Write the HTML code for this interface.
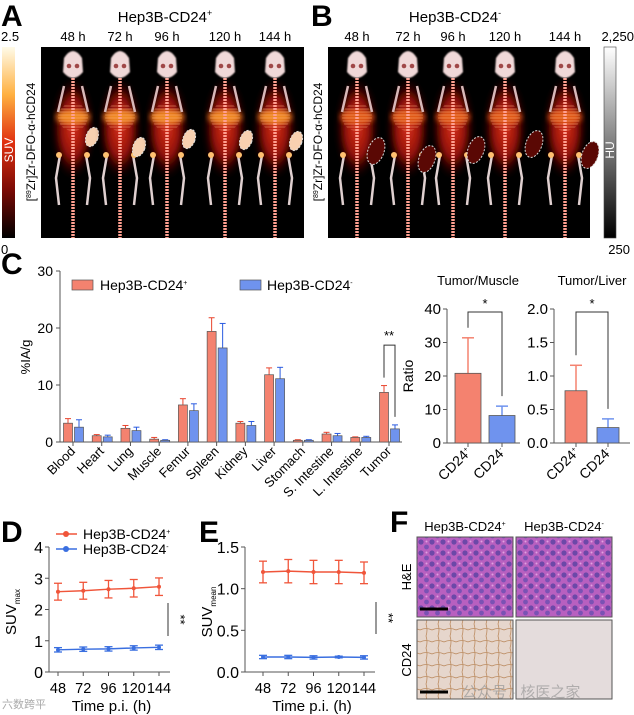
<!DOCTYPE html>
<html><head><meta charset="utf-8"><style>
html,body{margin:0;padding:0;background:#fff;}
svg{display:block;font-family:"Liberation Sans",Arial,sans-serif;}
</style></head><body>
<svg id="fig" width="634" height="715" viewBox="0 0 634 715" xmlns="http://www.w3.org/2000/svg">
<defs>
<linearGradient id="suvg" x1="0" y1="0" x2="0" y2="1">
<stop offset="0" stop-color="#fffbe8"/><stop offset="0.25" stop-color="#ffb040"/><stop offset="0.5" stop-color="#e03010"/><stop offset="0.75" stop-color="#7a0a05"/><stop offset="1" stop-color="#000"/></linearGradient>
<linearGradient id="hug" x1="0" y1="0" x2="0" y2="1"><stop offset="0" stop-color="#fff"/><stop offset="1" stop-color="#000"/></linearGradient>
<radialGradient id="bodyg"><stop offset="0" stop-color="#d8301a"/><stop offset="0.6" stop-color="#901008"/><stop offset="1" stop-color="#300" stop-opacity="0"/></radialGradient>
<filter id="blur3"><feGaussianBlur stdDeviation="3"/></filter>
<filter id="blur1"><feGaussianBlur stdDeviation="0.8"/></filter>
<pattern id="he" width="11" height="11" patternUnits="userSpaceOnUse"><rect width="11" height="11" fill="#b860c0"/><circle cx="3" cy="3" r="2.6" fill="#6c48a8"/><circle cx="8.5" cy="8" r="2.4" fill="#7a52b4"/><circle cx="8.5" cy="2.5" r="1" fill="#e0a0e0"/></pattern>
<pattern id="cd24p" width="12" height="12" patternUnits="userSpaceOnUse"><rect width="12" height="12" fill="#e6d6cc"/><path d="M0 6 Q6 3 12 6 M6 0 Q8 6 6 12" fill="none" stroke="#b07845" stroke-width="0.8" opacity="0.8"/></pattern>
<pattern id="ribs" width="6" height="3" patternUnits="userSpaceOnUse"><rect width="6" height="3" fill="none"/><line x1="0" y1="1" x2="6" y2="1" stroke="#ffb080" stroke-width="0.8" opacity="0.6"/></pattern>
</defs>

<text x="1" y="26" font-size="30" font-weight="bold">A</text>
<text x="311" y="26" font-size="30" font-weight="bold">B</text>
<text x="1" y="274" font-size="30" font-weight="bold">C</text>
<text x="1" y="542" font-size="30" font-weight="bold">D</text>
<text x="199" y="542" font-size="30" font-weight="bold">E</text>
<text x="390" y="532" font-size="30" font-weight="bold">F</text>

<text x="165" y="22" font-size="15" text-anchor="middle">Hep3B-CD24<tspan font-size="9" dy="-6">+</tspan></text>
<text x="455" y="22" font-size="15" text-anchor="middle">Hep3B-CD24<tspan font-size="9" dy="-6">-</tspan></text>

<rect x="2" y="47" width="13" height="191" fill="url(#suvg)"/>
<text x="1" y="41" font-size="13">2.5</text>
<text x="1" y="254" font-size="13">0</text>
<text font-size="12" fill="#fff" transform="translate(13,150) rotate(-90)" text-anchor="middle">SUV</text>
<text font-size="12" transform="translate(35,142) rotate(-90)" text-anchor="middle">[<tspan font-size="7" dy="-4">89</tspan><tspan dy="4">Zr]Zr-DFO-α-hCD24</tspan></text>
<text font-size="12" transform="translate(322,142) rotate(-90)" text-anchor="middle">[<tspan font-size="7" dy="-4">89</tspan><tspan dy="4">Zr]Zr-DFO-α-hCD24</tspan></text>

<rect x="604" y="47" width="12" height="191" fill="url(#hug)" stroke="#444" stroke-width="0.6"/>
<text x="634" y="41" font-size="13" text-anchor="end">2,250</text>
<text x="630" y="254" font-size="13" text-anchor="end">250</text>
<text font-size="12" fill="#fff" transform="translate(614,150) rotate(-90)" text-anchor="middle">HU</text>

<rect x="41" y="47" width="263" height="191" fill="#000"/>
<rect x="328" y="47" width="262" height="191" fill="#000"/>
<g id="mice"></g>
<g id="tlabels"></g>

<g id="chartC"></g>
<g id="chartRatio"></g>
<g id="chartD"></g>
<g id="chartE"></g>

<text x="465" y="531" font-size="13" text-anchor="middle">Hep3B-CD24<tspan font-size="7" dy="-5">+</tspan></text>
<text x="564" y="531" font-size="13" text-anchor="middle">Hep3B-CD24<tspan font-size="7" dy="-5">-</tspan></text>
<text font-size="13" transform="translate(411,577) rotate(-90)" text-anchor="middle">H&amp;E</text>
<text font-size="13" transform="translate(411,660) rotate(-90)" text-anchor="middle">CD24</text>
<rect x="417" y="537" width="96" height="80" fill="url(#he)" stroke="#555"/>
<rect x="516" y="537" width="96" height="80" fill="url(#he)" stroke="#555"/>
<rect x="417" y="620" width="96" height="79" fill="url(#cd24p)" stroke="#555"/>
<rect x="516" y="620" width="96" height="79" fill="#e4dcdc" stroke="#555"/>
<line x1="420" y1="609" x2="448" y2="609" stroke="#000" stroke-width="3"/>
<line x1="420" y1="692" x2="448" y2="692" stroke="#000" stroke-width="3"/>
<text x="462" y="697" font-size="15" fill="#999" opacity="0.7" font-family="'Liberation Sans','Noto Sans CJK SC',sans-serif">公众号 · 核医之家</text>
<text x="2" y="708" font-size="11" fill="#aaa" font-family="'Liberation Sans','Noto Sans CJK SC',sans-serif">六数跨平</text>
</svg>
<script>
var NS="http://www.w3.org/2000/svg";
function mk(tag,attrs,parent){var e=document.createElementNS(NS,tag);for(var k in attrs)e.setAttribute(k,attrs[k]);parent.appendChild(e);return e;}

var timepoints=["48 h","72 h","96 h","120 h","144 h"];
var miceA=[73,120,167,225,275];
var tumorA=[[92,137],[139,147],[189,139],[246,140],[296,141]];
var miceB=[357,408,453,505,565];
var tumorB=[[376,151],[427,159],[476,150],[534,144],[590,155]];
var gm=document.getElementById('mice');
var gt=document.getElementById('tlabels');
function mouse(cx,t,pos){
  var g=mk('g',{},gm);
  
  
  mk('ellipse',{cx:cx,cy:128,rx:21,ry:50,fill:'url(#bodyg)',filter:'url(#blur3)'},g);
  mk('ellipse',{cx:cx,cy:117,rx:17,ry:7,fill:pos?'#f08a20':'#e05a18',filter:'url(#blur3)'},g);
  mk('ellipse',{cx:cx,cy:117,rx:15,ry:14,fill:'url(#ribs)'},g);
  mk('line',{x1:cx,y1:72,x2:cx,y2:238,stroke:'#ff9f90',"stroke-width":3.5,"stroke-dasharray":"2,1"},g);
  mk('path',{d:'M'+(cx-9)+' 58 Q'+cx+' 44 '+(cx+9)+' 58 L'+(cx+10)+' 72 Q'+cx+' 84 '+(cx-10)+' 72 Z',fill:'#f0d8d8',filter:'url(#blur1)'},g);
  mk('circle',{cx:cx-4,cy:66,r:2.3,fill:'#a04848'},g);
  mk('circle',{cx:cx+4,cy:66,r:2.3,fill:'#a04848'},g);
  mk('line',{x1:cx-9,y1:86,x2:cx-15,y2:112,stroke:'#d8b8b8',"stroke-width":2.5},g);
  mk('line',{x1:cx+9,y1:86,x2:cx+15,y2:112,stroke:'#d8b8b8',"stroke-width":2.5},g);
  mk('polyline',{points:(cx-13)+',155 '+(cx-17)+',178 '+(cx-14)+',205',fill:'none',stroke:'#e0d0d0',"stroke-width":2.5},g);
  mk('polyline',{points:(cx+13)+',155 '+(cx+17)+',178 '+(cx+14)+',205',fill:'none',stroke:'#e0d0d0',"stroke-width":2.5},g);
  mk('circle',{cx:cx-14,cy:155,r:3,fill:'#ffc070'},g);
  mk('circle',{cx:cx+14,cy:155,r:3,fill:'#ffc070'},g);
  var rx=pos?6:8,ry=pos?10:14;
  mk('ellipse',{cx:t[0],cy:t[1],rx:rx,ry:ry,fill:pos?'#f8d0b0':'#5a0804',stroke:'#ddd',"stroke-width":1,"stroke-dasharray":"2,1.5",transform:'rotate(20 '+t[0]+' '+t[1]+')'},g);
}
for(var i=0;i<5;i++){mouse(miceA[i],tumorA[i],true);mouse(miceB[i],tumorB[i],false);
  var a=mk('text',{x:miceA[i],y:41,"font-size":13,"text-anchor":"middle"},gt);a.textContent=timepoints[i];
  
  
  var b=mk('text',{x:miceB[i],y:41,"font-size":13,"text-anchor":"middle"},gt);b.textContent=timepoints[i];
  
  }

var organs=["Blood","Heart","Lung","Muscle","Femur","Spleen","Kidney","Liver","Stomach","S. Intestine","L. Intestine","Tumor"];
var posMean=[3.3,1.1,2.4,0.5,6.5,19.4,3.3,11.8,0.3,1.4,0.8,8.7];
var posErr=[0.8,0.2,0.5,0.3,1.1,2.4,0.3,1.2,0.1,0.3,0.1,1.2];
var negMean=[2.6,0.9,2.0,0.3,5.5,16.5,2.9,11.1,0.3,1.1,0.8,2.3];
var negErr=[1.3,0.3,0.6,0.1,1.2,4.3,0.7,2.0,0.1,0.4,0.2,0.7];
var cTicks=[0,10,20,30];
var RED="#f4826f",REDS="#e8432c",BLUE="#6f93ee",BLUES="#2a5be0";
(function(){
  var g=document.getElementById('chartC');
  var x0=60,x1=402,yT=271,yB=442,ymax=30;
  function y(v){return yB-(v/ymax)*(yB-yT);}
  function xc(i){return 73+i*(389-73)/(organs.length-1);}
  var ax=mk('line',{x1:x0,y1:y(30),x2:x0,y2:yB,stroke:'#555'},g);
  
  
  var bx=mk('line',{x1:x0,y1:yB,x2:x1,y2:yB,stroke:'#555'},g);
  
  
  cTicks.forEach(function(t){mk('line',{x1:x0-4,y1:y(t),x2:x0,y2:y(t),stroke:'#555'},g);
    var tx=mk('text',{x:x0-7,y:y(t)+5,"font-size":14,"text-anchor":"end"},g);tx.textContent=t;
    
    });
  var yl=mk('text',{transform:'translate(30,357) rotate(-90)',"font-size":13,"text-anchor":"middle"},g);yl.textContent='%IA/g';
  
  
  organs.forEach(function(o,i){
    var c=xc(i);
    [[posMean,posErr,-5,RED,REDS],[negMean,negErr,6,BLUE,BLUES]].forEach(function(s,k){
      var m=s[0][i],e=s[1][i],cx=c+s[2];
      mk('line',{x1:cx,y1:y(m),x2:cx,y2:y(m+e),stroke:s[4],"stroke-width":1},g);
      mk('line',{x1:cx-3,y1:y(m+e),x2:cx+3,y2:y(m+e),stroke:s[4],"stroke-width":1},g);
      var r=mk('rect',{x:cx-4.5,y:y(m),width:9,height:yB-y(m),fill:s[3],stroke:'#555',"stroke-width":0.7},g);
      
      
    });
    mk('line',{x1:c,y1:yB,x2:c,y2:yB+4,stroke:'#555'},g);
    var t=mk('text',{transform:'translate('+(c+3)+','+(yB+10)+') rotate(-45)',"font-size":13,"text-anchor":"end"},g);t.textContent=o;
    
    
  });
  var ti=organs.length-1,tc=xc(ti);
  mk('polyline',{points:(tc-5)+','+(y(8.7+1.2)-8)+' '+(tc-5)+','+y(17)+' '+(tc+6)+','+y(17)+' '+(tc+6)+','+(y(2.3+0.7)-8),fill:'none',stroke:'#333'},g);
  var st=mk('text',{x:tc,y:y(17)-5,"font-size":13,"text-anchor":"middle"},g);st.textContent='**';
  
  
  var l1=mk('rect',{x:72,y:280,width:21,height:10,fill:RED,stroke:'#555',"stroke-width":0.7},g);
  
  
  var lt1=mk('text',{x:100,y:290,"font-size":14},g);lt1.innerHTML='Hep3B-CD24<tspan font-size="7" dy="-5">+</tspan>';
  
  
  var l2=mk('rect',{x:240,y:280,width:21,height:10,fill:BLUE,stroke:'#555',"stroke-width":0.7},g);
  
  
  var lt2=mk('text',{x:267,y:290,"font-size":14},g);lt2.innerHTML='Hep3B-CD24<tspan font-size="7" dy="-5">-</tspan>';
  
  
})();

var ratioGroups=["CD24+","CD24-"];
var muscleMean=[20.8,8.2];
var muscleErr=[10.6,2.8];
var muscleTicks=[0,10,20,30,40];
var liverMean=[0.78,0.23];
var liverErr=[0.38,0.13];
var liverTicks=["0.0","0.5","1.0","1.5","2.0"];
(function(){
  var g=document.getElementById('chartRatio');
  function panel(ax,xend,centers,bw,ymax,means,errs,ticks,title,tx,name){
    var yT=309,yB=443;
    function y(v){return yB-(v/ymax)*(yB-yT);}
    var a=mk('line',{x1:ax,y1:yT,x2:ax,y2:yB,stroke:'#555'},g);
    
    
    var b=mk('line',{x1:ax,y1:yB,x2:xend,y2:yB,stroke:'#555'},g);
    
    
    ticks.forEach(function(t){var v=parseFloat(t);mk('line',{x1:ax-4,y1:y(v),x2:ax,y2:y(v),stroke:'#555'},g);
      var tt=mk('text',{x:ax-6,y:y(v)+5,"font-size":15,"text-anchor":"end"},g);tt.textContent=t;
      
      });
    var ti=mk('text',{x:tx,y:285,"font-size":13,"text-anchor":"middle"},g);ti.textContent=title;
    
    
    [[RED,REDS],[BLUE,BLUES]].forEach(function(c,k){
      var m=means[k],e=errs[k],cx=centers[k];
      mk('line',{x1:cx,y1:y(m),x2:cx,y2:y(m+e),stroke:c[0],"stroke-width":1.5},g);
      mk('line',{x1:cx-6,y1:y(m+e),x2:cx+6,y2:y(m+e),stroke:c[0],"stroke-width":1.5},g);
      var r=mk('rect',{x:cx-bw/2,y:y(m),width:bw,height:yB-y(m),fill:c[0],stroke:'#555',"stroke-width":0.8},g);
      
      
      mk('line',{x1:cx,y1:yB,x2:cx,y2:yB+4,stroke:'#555'},g);
      var lb=mk('text',{transform:'translate('+(cx+4)+','+(yB+10)+') rotate(-45)',"font-size":14,"text-anchor":"end"},g);
      lb.innerHTML='CD24<tspan font-size="7" dy="-5">'+(k?'-':'+')+'</tspan>';
      
      
    });
    var top=yT+3;
    mk('polyline',{points:centers[0]+','+(y(means[0]+errs[0])-10)+' '+centers[0]+','+top+' '+centers[1]+','+top+' '+centers[1]+','+(y(means[1]+errs[1])-10),fill:'none',stroke:'#333'},g);
    var s=mk('text',{x:(centers[0]+centers[1])/2,y:top-4,"font-size":13,"text-anchor":"middle"},g);s.textContent='*';
    
    
  }
  panel(447,520,[468,502],26,40,muscleMean,muscleErr,muscleTicks,'Tumor/Muscle',478,'tumor-muscle');
  panel(554,630,[576,608],22,2,liverMean,liverErr,liverTicks,'Tumor/Liver',592,'tumor-liver');
  var yl=mk('text',{transform:'translate(413,376) rotate(-90)',"font-size":14,"text-anchor":"middle"},g);yl.textContent='Ratio';
  
  
})();

var hours=[48,72,96,120,144];
var dPos=[2.57,2.60,2.65,2.68,2.73];
var dPosErr=[0.27,0.27,0.28,0.28,0.28];
var dNeg=[0.71,0.73,0.74,0.77,0.79];
var dNegErr=[0.07,0.07,0.07,0.07,0.07];
var dTicks=["0","1","2","3","4"];
var ePos=[1.20,1.21,1.20,1.20,1.19];
var ePosErr=[0.13,0.14,0.14,0.14,0.13];
var eNeg=[0.18,0.18,0.175,0.18,0.175];
var eNegErr=[0.02,0.02,0.02,0.01,0.02];
var eTicks=["0.0","0.5","1.0","1.5"];
function linePanel(gid,ax,xend,x48,x144,ymax,pos,posE,neg,negE,ticks,sub,sig,name){
  var g=document.getElementById(gid);
  var yT=547,yB=672;
  function y(v){return yB-(v/ymax)*(yB-yT);}
  function x(h){return x48+(h-48)/(144-48)*(x144-x48);}
  var a=mk('line',{x1:ax,y1:yT,x2:ax,y2:yB,stroke:'#555'},g);
  
  
  var b=mk('line',{x1:ax,y1:yB,x2:xend,y2:yB,stroke:'#555'},g);
  
  
  ticks.forEach(function(t){var v=parseFloat(t);mk('line',{x1:ax-4,y1:y(v),x2:ax,y2:y(v),stroke:'#555'},g);
    var tt=mk('text',{x:ax-6,y:y(v)+6,"font-size":16,"text-anchor":"end"},g);tt.textContent=t;
    
    });
  hours.forEach(function(h){mk('line',{x1:x(h),y1:yB,x2:x(h),y2:yB+4,stroke:'#555'},g);
    var tt=mk('text',{x:x(h),y:693,"font-size":14.5,"text-anchor":"middle"},g);tt.textContent=h;
    
    });
  var xt=mk('text',{x:(ax+xend)/2+2,y:711,"font-size":15,"text-anchor":"middle"},g);xt.textContent='Time p.i. (h)';
  
  
  var yl=mk('text',{transform:'translate('+(ax-33)+',612) rotate(-90)',"font-size":15,"text-anchor":"middle"},g);
  yl.innerHTML='SUV<tspan font-size="8" dy="4">'+sub+'</tspan>';
  
  
  [[pos,posE,'#f0553a','cd24pos'],[neg,negE,'#3a6fe0','cd24neg']].forEach(function(s){
    var pts=hours.map(function(h,i){return x(h)+','+y(s[0][i]);}).join(' ');
    var pl=mk('polyline',{points:pts,fill:'none',stroke:s[2],"stroke-width":1.5},g);
    
    
    hours.forEach(function(h,i){var v=s[0][i],e=s[1][i],cx=x(h);
      mk('line',{x1:cx,y1:y(v-e),x2:cx,y2:y(v+e),stroke:s[2],"stroke-width":1.3},g);
      mk('line',{x1:cx-4,y1:y(v-e),x2:cx+4,y2:y(v-e),stroke:s[2],"stroke-width":1.3},g);
      mk('line',{x1:cx-4,y1:y(v+e),x2:cx+4,y2:y(v+e),stroke:s[2],"stroke-width":1.3},g);
      var p=mk('circle',{cx:cx,cy:y(v),r:2,fill:s[2]},g);
      
      });
  });
  mk('line',{x1:sig[0],y1:sig[1],x2:sig[0],y2:sig[2],stroke:'#333'},g);
  var st=mk('text',{x:sig[0]+8,y:(sig[1]+sig[2])/2,"font-size":13,"text-anchor":"middle",transform:'rotate(90 '+(sig[0]+8)+' '+((sig[1]+sig[2])/2)+')'},g);st.textContent='**';
  
  
}
linePanel('chartD',49,170,58,159,4,dPos,dPosErr,dNeg,dNegErr,dTicks,'max',[168,603,636],'suvmax');
linePanel('chartE',245,375,263,364,1.5,ePos,ePosErr,eNeg,eNegErr,eTicks,'mean',[376,602,634],'suvmean');
(function(){
  var g=document.getElementById('chartD');
  [[534,'#f0553a','+','legend-entry-cd24pos'],[549,'#3a6fe0','-','legend-entry-cd24neg']].forEach(function(l){
    mk('line',{x1:56,y1:l[0],x2:77,y2:l[0],stroke:l[1],"stroke-width":1.5},g);
    mk('circle',{cx:66,cy:l[0],r:3,fill:l[1]},g);
    var t=mk('text',{x:83,y:l[0]+5,"font-size":14},g);t.innerHTML='Hep3B-CD24<tspan font-size="7" dy="-5">'+l[2]+'</tspan>';
    
    
  });
})();
</script>
</body></html>
